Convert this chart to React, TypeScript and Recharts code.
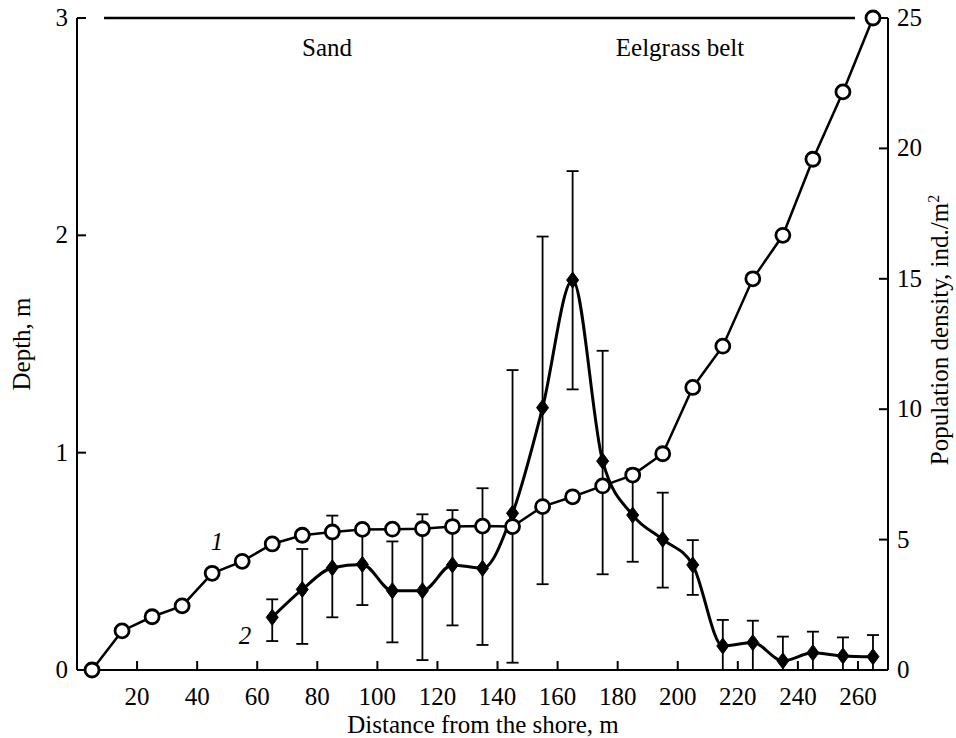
import { LineChart, Line, XAxis, YAxis, ErrorBar, ReferenceLine } from "recharts"

// distance from the shore, m
const distance = [5, 15, 25, 35, 45, 55, 65, 75, 85, 95, 105, 115, 125, 135, 145, 155, 165, 175, 185, 195, 205, 215, 225, 235, 245, 255, 265]
// curve 1: depth, m
const depth = [0, 0.18, 0.245, 0.295, 0.445, 0.5, 0.58, 0.62, 0.635, 0.647, 0.648, 0.65, 0.66, 0.662, 0.66, 0.752, 0.797, 0.847, 0.897, 0.995, 1.3, 1.49, 1.8, 2.0, 2.35, 2.66, 3.0]

// curve 2: population density, ind./m2 (with error bar ends)
const densityDistance = [65, 75, 85, 95, 105, 115, 125, 135, 145, 155, 165, 175, 185, 195, 205, 215, 225, 235, 245, 255, 265]
const density = [2.02, 3.09, 3.92, 4.05, 3.04, 3.04, 4.03, 3.9, 6.01, 10.06, 14.95, 8.01, 5.94, 5.01, 4.03, 0.92, 1.05, 0.35, 0.66, 0.54, 0.51]
const densityLow = [1.11, 1.0, 2.02, 2.49, 1.06, 0.38, 1.71, 0.96, 0.28, 3.29, 10.76, 3.67, 4.15, 3.16, 2.88, 0, 0, 0, 0, 0, 0]
const densityHigh = [2.71, 4.64, 5.92, 5.55, 4.93, 5.97, 6.13, 6.97, 11.5, 16.62, 19.13, 12.24, 7.7, 6.8, 4.98, 1.92, 1.89, 1.28, 1.47, 1.25, 1.34]

const xTicks = [20, 40, 60, 80, 100, 120, 140, 160, 180, 200, 220, 240, 260]
const depthTicks = [0, 1, 2, 3]
const densityTicks = [0, 5, 10, 15, 20, 25]

const depthData = distance.map((x, i) => ({ x, depth: depth[i] }))
const densityData = densityDistance.map((x, i) => ({
  x,
  density: density[i],
  err: [density[i] - densityLow[i], densityHigh[i] - density[i]],
}))

const FONT = "'Liberation Serif', 'Times New Roman', serif"
const FS = 25

const BottomTick = (props: any) => {
  const { x, y, payload } = props
  return (
    <g>
      <line x1={x} x2={x} y1={y} y2={y - 9} stroke="#000" strokeWidth={2} />
      <text x={x} y={y + 35} textAnchor="middle" fontFamily={FONT} fontSize={FS} fill="#000">
        {payload.value}
      </text>
    </g>
  )
}

const LeftTick = (props: any) => {
  const { x, y, payload } = props
  return (
    <g>
      <line x1={x} x2={x + 9} y1={y} y2={y} stroke="#000" strokeWidth={2} />
      <text x={x - 9} y={y + 8} textAnchor="end" fontFamily={FONT} fontSize={FS} fill="#000">
        {payload.value}
      </text>
    </g>
  )
}

const RightTick = (props: any) => {
  const { x, y, payload } = props
  return (
    <g>
      <line x1={x} x2={x - 9} y1={y} y2={y} stroke="#000" strokeWidth={2} />
      <text x={x + 9} y={y + 8} textAnchor="start" fontFamily={FONT} fontSize={FS} fill="#000">
        {payload.value}
      </text>
    </g>
  )
}

const OpenCircle = (props: any) => {
  const { cx, cy, index } = props
  if (cx == null || cy == null) return <g key={`c${index}`} />
  return <circle key={`c${index}`} cx={cx} cy={cy} r={7} fill="#fff" stroke="#000" strokeWidth={2.8} />
}

const Diamond = (props: any) => {
  const { cx, cy, index } = props
  if (cx == null || cy == null) return <g key={`d${index}`} />
  return (
    <polygon
      key={`d${index}`}
      points={`${cx},${cy - 8} ${cx + 6},${cy} ${cx},${cy + 8} ${cx - 6},${cy}`}
      fill="#000"
      stroke="#000"
      strokeWidth={1}
    />
  )
}

export default function App() {
  return (
    <div style={{ position: "absolute", left: 0, top: 0, background: "#fff" }}>
      <LineChart width={956} height={738} margin={{ top: 18, right: 0, bottom: 0, left: 17 }}>
        <XAxis
          dataKey="x"
          type="number"
          domain={[0, 270]}
          ticks={xTicks}
          height={68}
          tickSize={0}
          tickMargin={0}
          tickLine={false}
          tick={<BottomTick />}
          axisLine={{ stroke: "#000", strokeWidth: 2 }}
          allowDataOverflow
        />
        <YAxis
          yAxisId="left"
          orientation="left"
          domain={[0, 3]}
          ticks={depthTicks}
          width={60}
          tickSize={0}
          tickMargin={0}
          tickLine={false}
          tick={<LeftTick />}
          axisLine={{ stroke: "#000", strokeWidth: 2 }}
        />
        <YAxis
          yAxisId="right"
          orientation="right"
          domain={[0, 25]}
          ticks={densityTicks}
          width={68}
          tickSize={0}
          tickMargin={0}
          tickLine={false}
          tick={<RightTick />}
          axisLine={{ stroke: "#000", strokeWidth: 2 }}
        />
        <ReferenceLine
          yAxisId="left"
          segment={[{ x: 9, y: 3 }, { x: 259, y: 3 }]}
          stroke="#000"
          strokeWidth={2.5}
        />
        <Line
          yAxisId="right"
          data={densityData}
          dataKey="density"
          type="monotone"
          stroke="#000"
          strokeWidth={3}
          dot={Diamond}
          activeDot={false}
          isAnimationActive={false}
        >
          <ErrorBar dataKey="err" width={6} stroke="#000" strokeWidth={1.8} direction="y" />
        </Line>
        <Line
          yAxisId="left"
          data={depthData}
          dataKey="depth"
          type="linear"
          stroke="#000"
          strokeWidth={2.5}
          dot={OpenCircle}
          activeDot={false}
          isAnimationActive={false}
        />
        <text x={327} y={56} textAnchor="middle" fontFamily={FONT} fontSize={FS} fill="#000">Sand</text>
        <text x={680} y={56} textAnchor="middle" fontFamily={FONT} fontSize={FS} fill="#000">Eelgrass belt</text>
        <text x={217} y={550} textAnchor="middle" fontFamily={FONT} fontSize={FS} fontStyle="italic" fill="#000">1</text>
        <text x={245} y={644} textAnchor="middle" fontFamily={FONT} fontSize={FS} fontStyle="italic" fill="#000">2</text>
        <text x={483} y={733} textAnchor="middle" fontFamily={FONT} fontSize={FS} fill="#000">Distance from the shore, m</text>
        <text x={30} y={344} textAnchor="middle" fontFamily={FONT} fontSize={FS} fill="#000" transform="rotate(-90, 30, 344)">Depth, m</text>
        <text x={948} y={330} textAnchor="middle" fontFamily={FONT} fontSize={FS} fill="#000" transform="rotate(-90, 948, 330)">
          Population density, ind./m<tspan dy={-9} fontSize={16}>2</tspan>
        </text>
      </LineChart>
    </div>
  )
}
